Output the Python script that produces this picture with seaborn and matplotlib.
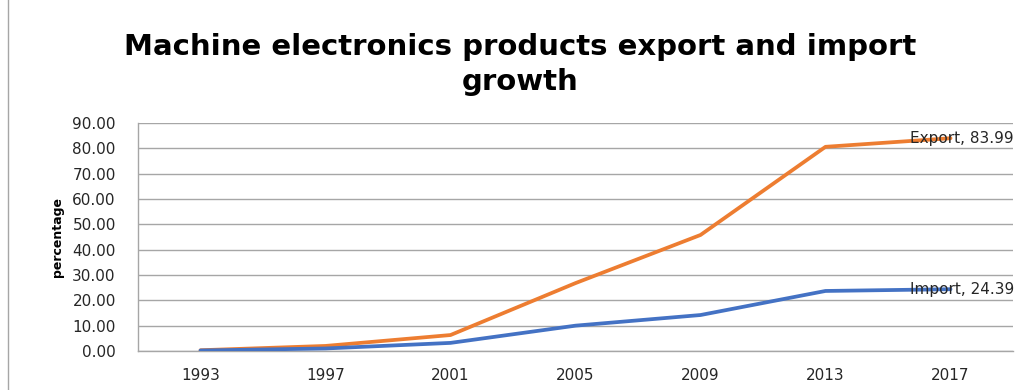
import matplotlib
matplotlib.use("Agg")
import matplotlib.pyplot as plt
import seaborn as sns
import pandas as pd
from matplotlib.patches import Rectangle

years = ["1993", "1997", "2001", "2005", "2009", "2013", "2017"]
export_vals = [0.3, 2.0, 6.3, 26.8, 45.8, 80.6, 83.99]
import_vals = [0.2, 1.0, 3.2, 10.0, 14.2, 23.7, 24.39]
y_ticks = [0, 10, 20, 30, 40, 50, 60, 70, 80, 90]

sns.set_style("white")
plt.rcParams['font.family'] = ['DejaVu Sans']

df = pd.DataFrame({
    "year": years * 2,
    "value": export_vals + import_vals,
    "series": ["Export"] * len(years) + ["Import"] * len(years),
})
df["pos"] = list(range(len(years))) * 2

fig = plt.figure(figsize=(10.29, 3.9), dpi=100)
ax = fig.add_axes([138/1029, 1 - 351/390, (1013-138)/1029, (351-123)/390])

sns.lineplot(data=df, x="pos", y="value", hue="series",
             palette={"Export": "#ED7D31", "Import": "#4472C4"},
             linewidth=2.7, ax=ax, legend=False, zorder=3)

ax.set_xlim(-0.5, len(years) - 0.5)
ax.set_ylim(0, 90)
ax.set_xticks(range(len(years)))
ax.set_xticklabels(years, fontsize=11, color="#262626")
ax.set_yticks(y_ticks)
ax.set_yticklabels([f"{v:.2f}" for v in y_ticks], fontsize=11, color="#262626")
ax.tick_params(axis="y", length=0, pad=16)
ax.tick_params(axis="x", length=0, pad=12)
ax.grid(axis="y", color="#a6a6a6", linewidth=1)
for s in ["top", "right"]:
    ax.spines[s].set_visible(False)
for s in ["left", "bottom"]:
    ax.spines[s].set_color("#a6a6a6")
    ax.spines[s].set_linewidth(1)
ax.set_xlabel("")
ax.set_ylabel("percentage", fontsize=9, fontweight="bold", color="black", labelpad=6)

ax.annotate(f"Export, {export_vals[-1]:.2f}", xy=(len(years) - 1, export_vals[-1]),
            xytext=(-40, 0), textcoords="offset pixels", fontsize=11,
            color="#262626", va="center", ha="left", annotation_clip=False, zorder=4)
ax.annotate(f"Import, {import_vals[-1]:.2f}", xy=(len(years) - 1, import_vals[-1]),
            xytext=(-40, 0), textcoords="offset pixels", fontsize=11,
            color="#262626", va="center", ha="left", annotation_clip=False, zorder=4)

fig.text(0.505, 0.915, "Machine electronics products export and import\ngrowth",
         ha="center", va="top", fontsize=21, fontweight="bold", linespacing=1.3,
         color="black")

fig.add_artist(Rectangle((8/1029, -0.01), 2.0, 1.2, transform=fig.transFigure,
                         fill=False, edgecolor="#a6a6a6", linewidth=1))

fig.savefig("out.png", dpi=100)
